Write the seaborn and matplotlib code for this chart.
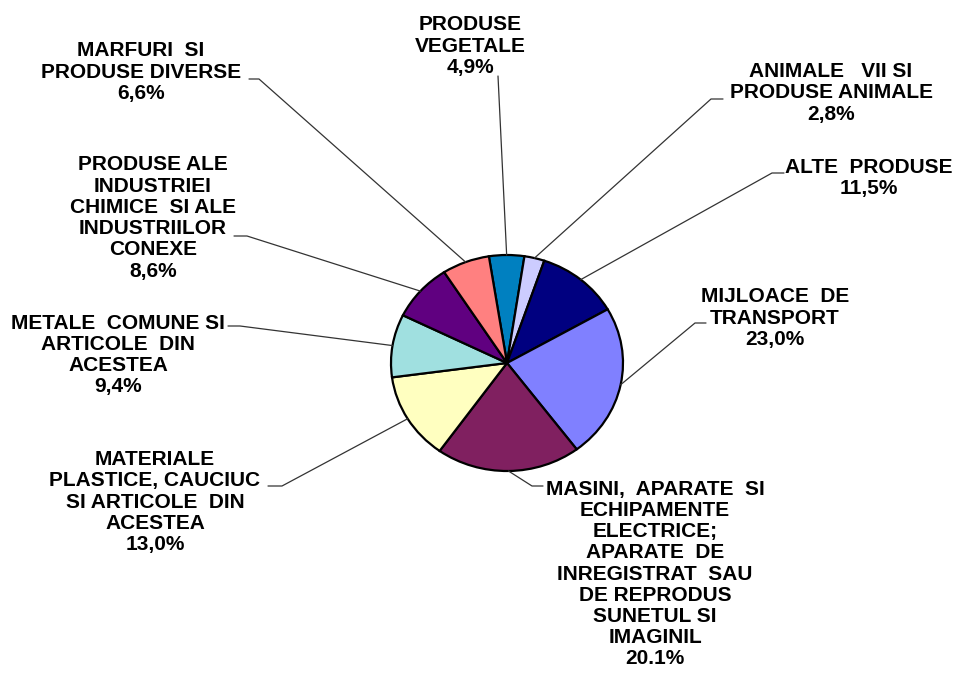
import matplotlib
matplotlib.use("Agg")
import matplotlib.pyplot as plt
from matplotlib.lines import Line2D
import seaborn as sns
import numpy as np

# data (clockwise from the top)
categories = [
    "PRODUSE\nVEGETALE",
    "ANIMALE   VII SI\nPRODUSE ANIMALE",
    "ALTE  PRODUSE",
    "MIJLOACE  DE\nTRANSPORT",
    "MASINI,  APARATE  SI\nECHIPAMENTE\nELECTRICE;\nAPARATE  DE\nINREGISTRAT  SAU\nDE REPRODUS\nSUNETUL SI\nIMAGINIL",
    "MATERIALE\nPLASTICE, CAUCIUC\nSI ARTICOLE  DIN\nACESTEA",
    "METALE  COMUNE SI\nARTICOLE  DIN\nACESTEA",
    "PRODUSE ALE\nINDUSTRIEI\nCHIMICE  SI ALE\nINDUSTRIILOR\nCONEXE",
    "MARFURI  SI\nPRODUSE DIVERSE",
]
shares = [4.9, 2.8, 11.5, 23.0, 20.1, 13.0, 9.4, 8.6, 6.6]
share_labels = ["4,9%", "2,8%", "11,5%", "23,0%", "20.1%", "13,0%", "9,4%", "8,6%", "6,6%"]
colors = ["#0080c0", "#ccccff", "#000080", "#8080ff", "#802060",
          "#ffffc0", "#a0e0e0", "#600080", "#ff8080"]

# label layout in pixels: text centre, elbow of leader, end of short horizontal tick
label_pos = [(470, 46), (831, 93), (869, 178), (775, 318), (655, 574),
             (155, 502), (118, 355), (153, 218), (141, 72)]
elbows = [None, (711, 99), (772, 173), (695, 323), (532, 486),
          (282, 486), (240, 326), (247, 236), (259, 79)]
tick_end = [None, 723, 784, 706, 543, 268, 228, 234, 249]

W, H = 955, 674
sns.set_theme(style="white")
plt.rcParams["font.family"] = ["Liberation Sans", "DejaVu Sans"]

fig = plt.figure(figsize=(W / 100, H / 100), dpi=100)
fig.patch.set_facecolor("white")

cx, cy, rx, ry = 507, 363, 116, 108
ax = fig.add_axes([(cx - rx) / W, 1 - (cy + ry) / H, 2 * rx / W, 2 * ry / H])
wedges, _ = ax.pie(shares, colors=colors, startangle=99, counterclock=False,
                   wedgeprops=dict(edgecolor="black", linewidth=1.6))
ax.set_aspect("auto")
ax.set_xlim(-1, 1)
ax.set_ylim(-1, 1)
ax.axis("off")


def fpx(x, y):
    return x / W, 1 - y / H


to_fig = fig.transFigure.inverted()
for i, w in enumerate(wedges):
    mid = np.deg2rad((w.theta1 + w.theta2) / 2)
    sx, sy = to_fig.transform(ax.transData.transform((np.cos(mid), np.sin(mid))))
    tx, ty = fpx(*label_pos[i])
    fig.text(tx, ty, categories[i] + "\n" + share_labels[i], ha="center", va="center",
             multialignment="center", fontsize=15, fontweight="bold",
             linespacing=1.15, color="black")
    if elbows[i] is None:
        ex, ey = fpx(498, 76)
        fig.add_artist(Line2D([sx, ex], [sy, ey], color="#333333", lw=0.9,
                              transform=fig.transFigure))
    else:
        ex, ey = fpx(*elbows[i])
        hx, _ = fpx(tick_end[i], elbows[i][1])
        fig.add_artist(Line2D([sx, ex, hx], [sy, ey, ey], color="#333333", lw=0.9,
                              transform=fig.transFigure))

fig.savefig("out.png", dpi=100)
